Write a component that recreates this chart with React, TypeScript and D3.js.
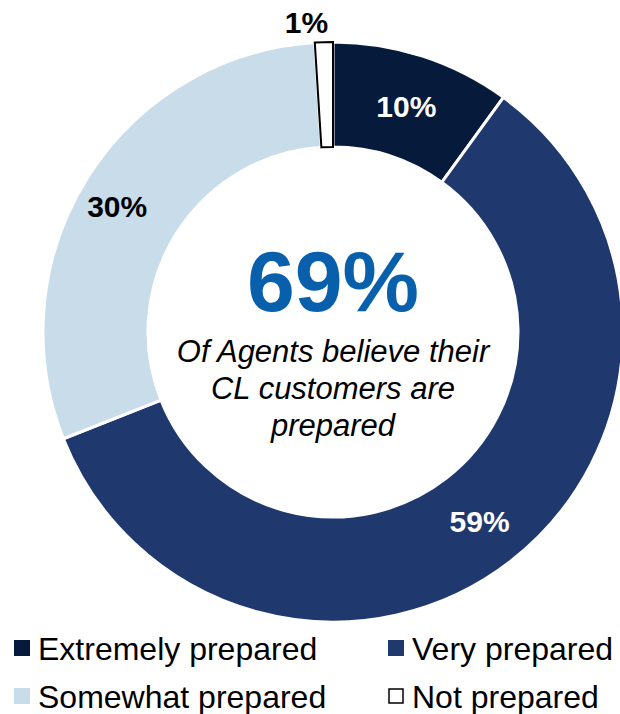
import React from "react";
import * as d3 from "d3";

const categories = ["Extremely prepared", "Very prepared", "Somewhat prepared", "Not prepared"];
const values = [10, 59, 30, 1];
const labels = ["10%", "59%", "30%", "1%"];
const colors = ["#061a3b", "#1f386e", "#c9dcea", "#ffffff"];
const labelColors = ["#ffffff", "#ffffff", "#000000", "#000000"];
const centerValue = "69%";
const centerLines = ["Of Agents believe their", "CL customers are", "prepared"];

export default function App() {
  const W = 620, H = 714;
  const cx = 333, cy = 332, R = 290, r = 185;
  const pie = d3.pie<number>().sort(null).value((d) => d)(values);
  const arc = d3.arc<d3.PieArcDatum<number>>().innerRadius(r).outerRadius(R);
  const font = "Liberation Sans, Arial, sans-serif";
  const legendPos = [
    { x: 14, y: 640 },
    { x: 388, y: 640 },
    { x: 14, y: 688 },
    { x: 388, y: 688 },
  ];
  const labelOffsets = [
    { dx: 0, dy: 0 },
    { dx: 1, dy: 2 },
    { dx: -9, dy: 6 },
    { dx: -17, dy: -8 },
  ];
  return (
    <svg width={W} height={H} style={{ position: "absolute", left: 0, top: 0 }} fontFamily={font}>
      <rect width={W} height={H} fill="#fff" />
      <g transform={`translate(${cx},${cy})`}>
        {pie.map((p, i) => (
          <path
            key={i}
            d={arc(p) || ""}
            fill={colors[i]}
            stroke={i === 3 ? "#000" : "#fff"}
            strokeWidth={i === 3 ? 2 : 3}
          />
        ))}
        {pie.map((p, i) => {
          const a = (p.startAngle + p.endAngle) / 2;
          const rr = i === 3 ? R + 12 : i === 2 ? 245 : (R + r) / 2;
          const x = Math.sin(a) * rr + labelOffsets[i].dx;
          const y = -Math.cos(a) * rr + labelOffsets[i].dy;
          return (
            <text
              key={"l" + i}
              x={x}
              y={y}
              textAnchor="middle"
              dominantBaseline="central"
              fontSize={30}
              fontWeight="bold"
              fill={labelColors[i]}
            >
              {labels[i]}
            </text>
          );
        })}
        <text x={0} y={-21} textAnchor="middle" fontSize={86} fontWeight="bold" fill="#0860ad">
          {centerValue}
        </text>
        {centerLines.map((t, i) => (
          <text
            key={"c" + i}
            x={0}
            y={30 + i * 37}
            textAnchor="middle"
            fontSize={31}
            fontStyle="italic"
            fill="#000"
          >
            {t}
          </text>
        ))}
      </g>
      {categories.map((c, i) => (
        <g key={"g" + i} transform={`translate(${legendPos[i].x},${legendPos[i].y})`}>
          <rect
            x={i === 3 ? 1 : 0}
            y={i === 3 ? 1 : 0}
            width={i === 3 ? 14 : 16}
            height={i === 3 ? 14 : 16}
            fill={colors[i]}
            stroke={i === 3 ? "#000" : "none"}
            strokeWidth={1.5}
          />
          <text x={24} y={20} fontSize={32} fill="#000">
            {c}
          </text>
        </g>
      ))}
    </svg>
  );
}
